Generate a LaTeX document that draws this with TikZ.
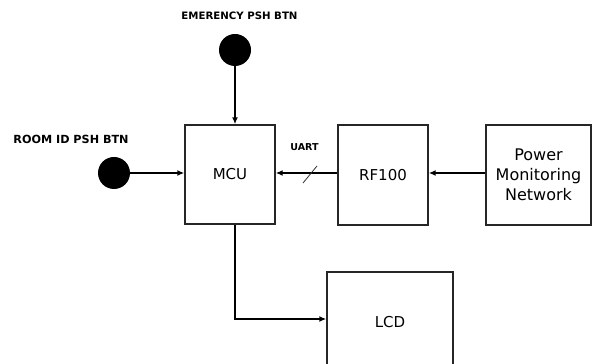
\documentclass[tikz,border=0pt]{standalone}
\usepackage{fontspec}
\setmainfont{DejaVu Sans}
\usetikzlibrary{arrows.meta,calc}
\begin{document}
\begin{tikzpicture}[x=1pt,y=1pt,
  blk/.style={draw=black!85, line width=1.4pt, minimum width=#1, inner sep=0pt, align=center, font=\fontsize{15}{20}\selectfont},
  btn/.style={circle, fill=black, minimum size=32pt, inner sep=0pt},
  lbl/.style={font=\bfseries\fontsize{10.8}{12}\selectfont},
  conn/.style={line width=1.8pt, -{Latex[length=7pt,width=6pt]}}]
\useasboundingbox (0,0) rectangle (592,364);
\clip (0,0) rectangle (592,364);
% blocks
\node[blk=90pt, minimum height=99pt] (mcu) at (230,189.5) {MCU};
\node[blk=90pt, minimum height=100pt] (rf) at (383,189) {RF100};
\node[blk=105pt, minimum height=100pt, font=\fontsize{16}{20}\selectfont] (pmn) at (538.5,189) {Power\\Monitoring\\Network};
\node[blk=126pt, minimum height=100pt] (lcd) at (390,42) {LCD};
% buttons
\node[btn] (eb) at (235,314) {};
\node[btn] (rb) at (114,191) {};
\node[lbl, font=\bfseries\fontsize{10.2}{12}\selectfont] (ebl) at (239.5,348) {EMERENCY PSH BTN};
\node[lbl, font=\bfseries\fontsize{11.2}{12}\selectfont] (rbl) at (71,225) {ROOM ID PSH BTN};
\node[lbl, font=\bfseries\fontsize{9.5}{11}\selectfont] (uart) at (304.5,217) {UART};
% connectors
\draw[conn] (eb.south) -- (eb.south |- mcu.north);
\draw[conn] (rb.east) -- (rb.east -| mcu.west);
\draw[conn] (pmn.west |- 0,191) coordinate (p1) -- (p1 -| rf.east);
\draw[conn] (rf.west |- 0,191) coordinate (r1) -- (r1 -| mcu.east);
\coordinate (sl1) at (303,181);
\coordinate (sl2) at (317,198);
\draw[line width=0.8pt, black!80] (sl1) -- (sl2);
\coordinate (m1) at ($(mcu.south)+(5,0)$);
\draw[conn] (m1) |- ($(lcd.west)+(0,3)$);
\end{tikzpicture}
\end{document}
